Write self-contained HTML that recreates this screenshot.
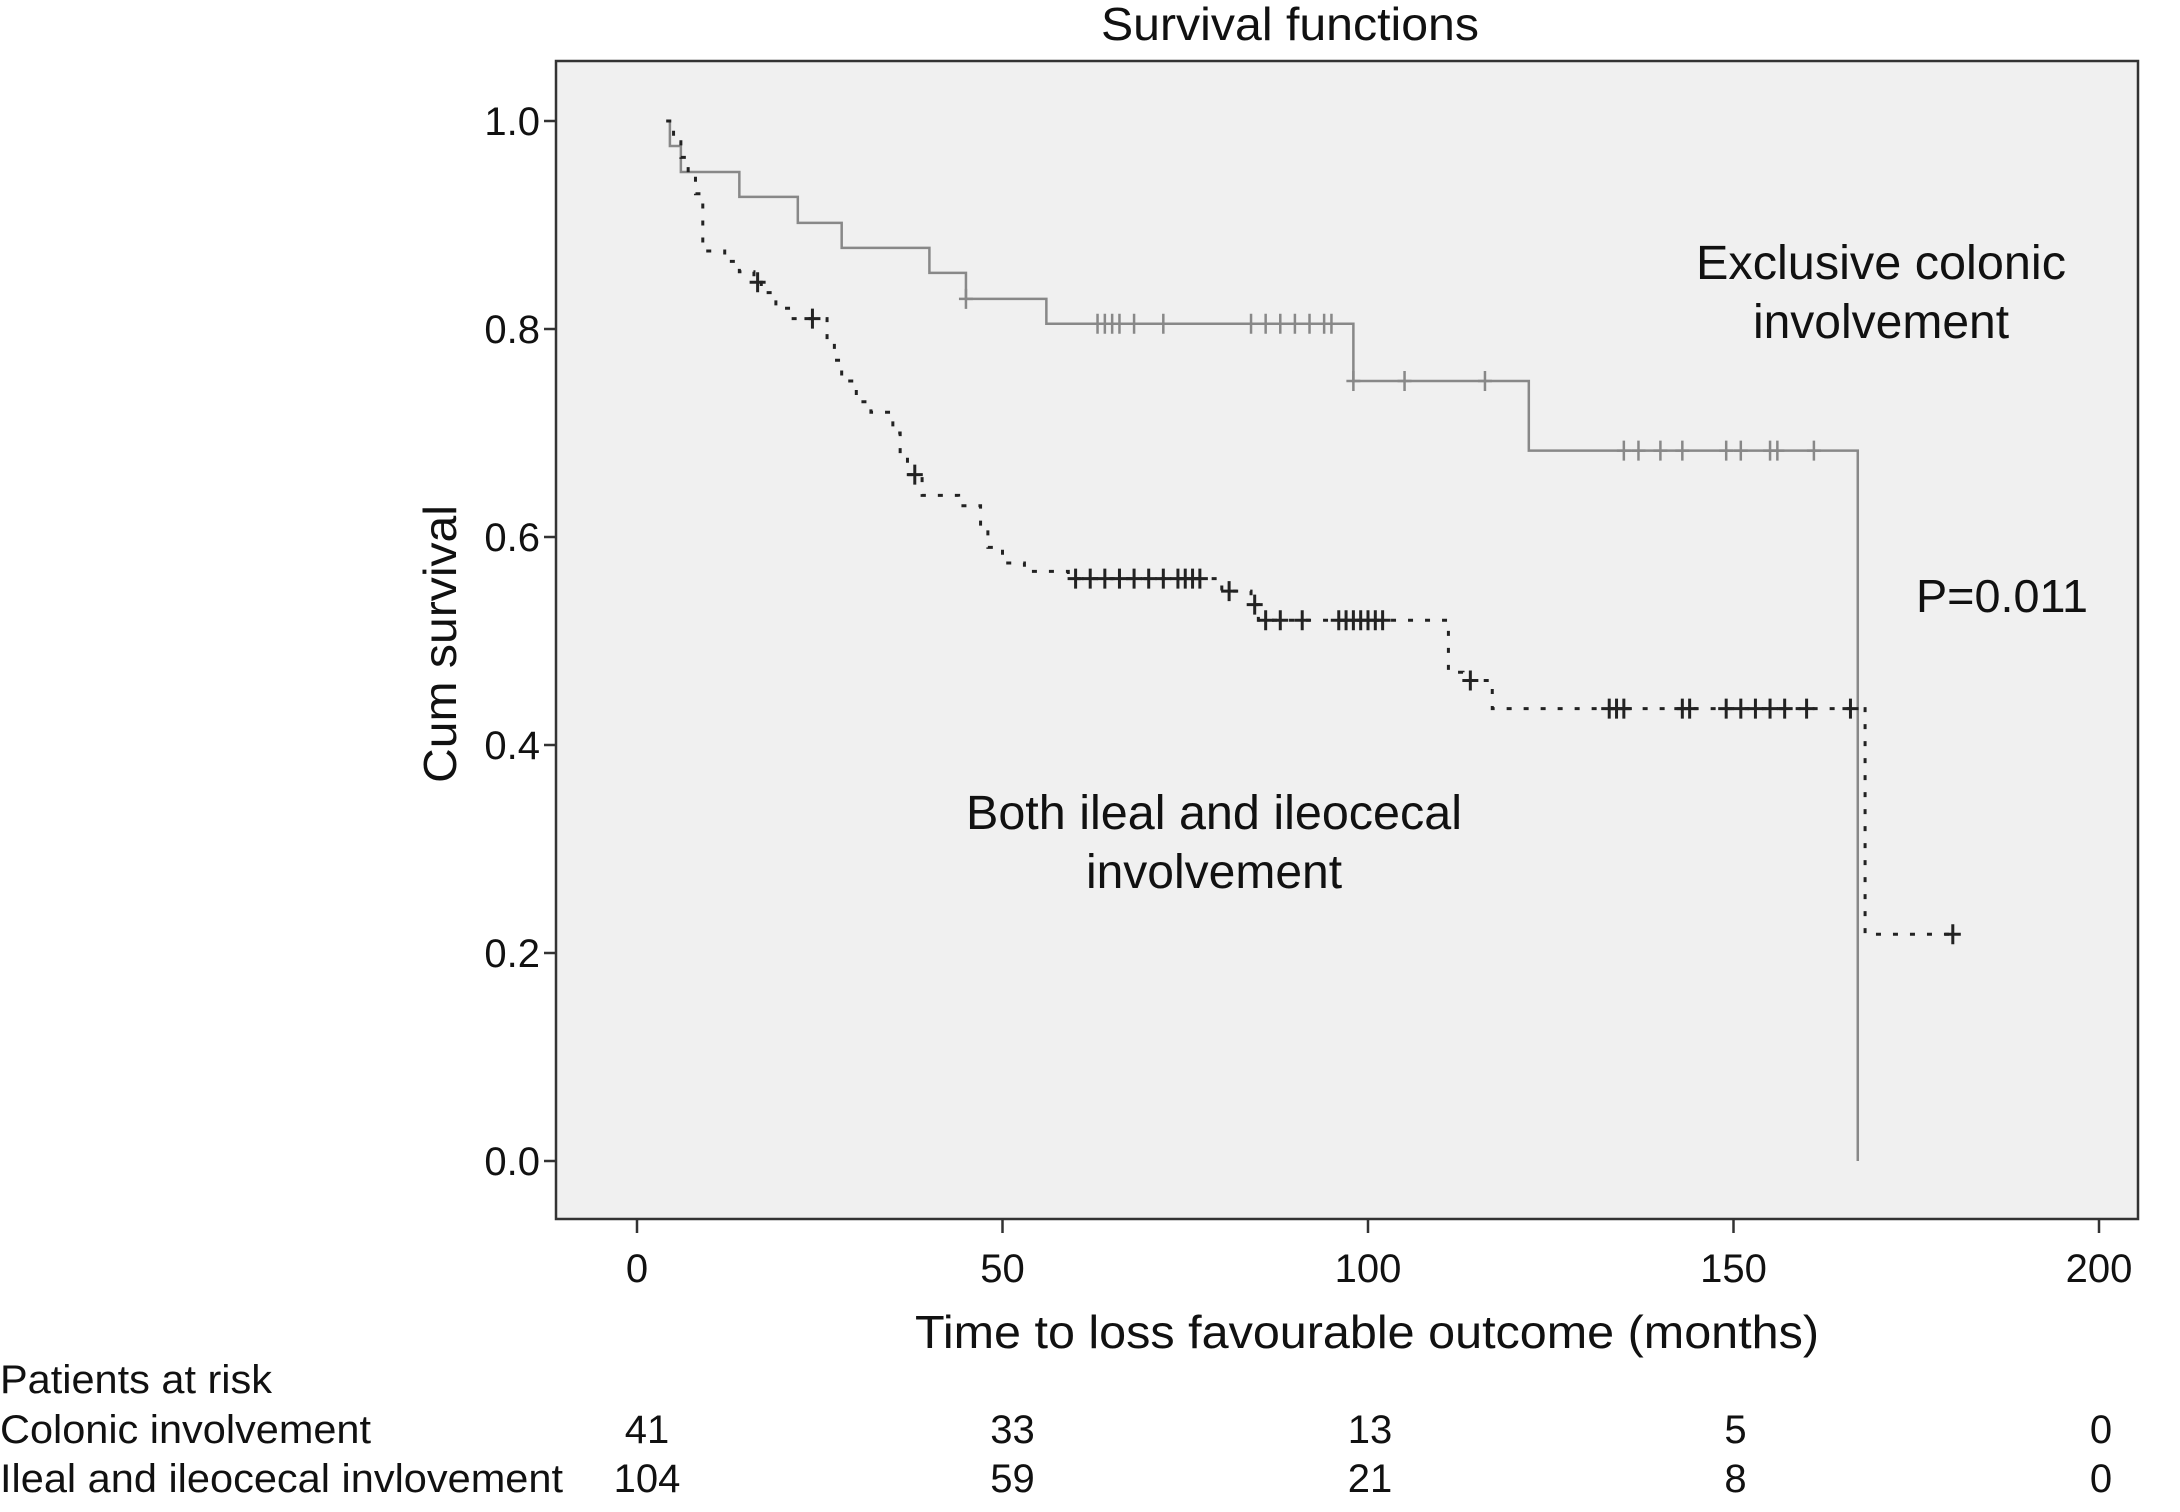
<!DOCTYPE html>
<html><head><meta charset="utf-8"><style>
html,body{margin:0;padding:0;background:#fff;}
svg{display:block;font-family:"Liberation Sans",sans-serif;}
</style></head><body>
<svg id="chart" width="2180" height="1512" viewBox="0 0 2180 1512">
<rect x="556" y="61" width="1582" height="1158" fill="#f0f0f0" stroke="#333" stroke-width="2.5"/>
<text x="1290" y="40" font-size="46" text-anchor="middle" fill="#111" textLength="378" lengthAdjust="spacingAndGlyphs">Survival functions</text>
<text transform="translate(456,644) rotate(-90)" font-size="46" text-anchor="middle" fill="#111" textLength="278" lengthAdjust="spacingAndGlyphs">Cum survival</text>
<text x="1367" y="1348" font-size="46" text-anchor="middle" fill="#111" textLength="904" lengthAdjust="spacingAndGlyphs">Time to loss favourable outcome (months)</text>
<g id="xticks"></g><g id="yticks"></g>
<g id="series"></g>
<text x="1881" y="279" font-size="48" text-anchor="middle" fill="#111" textLength="370" lengthAdjust="spacingAndGlyphs">Exclusive colonic</text>
<text x="1881" y="338" font-size="48" text-anchor="middle" fill="#111">involvement</text>
<text x="2002" y="612" font-size="46" text-anchor="middle" fill="#111" textLength="172" lengthAdjust="spacingAndGlyphs">P=0.011</text>
<text x="1214" y="829" font-size="48" text-anchor="middle" fill="#111" textLength="496" lengthAdjust="spacingAndGlyphs">Both ileal and ileocecal</text>
<text x="1214" y="888" font-size="48" text-anchor="middle" fill="#111">involvement</text>
<text x="0" y="1393" font-size="40" fill="#111" textLength="272" lengthAdjust="spacingAndGlyphs">Patients at risk</text>
<text x="0" y="1443" font-size="40" fill="#111" textLength="371" lengthAdjust="spacingAndGlyphs">Colonic involvement</text>
<text x="0" y="1492" font-size="40" fill="#111" textLength="563" lengthAdjust="spacingAndGlyphs">Ileal and ileocecal invlovement</text>
<g id="risk"></g>
</svg>
<script>
const xTicks=[0,50,100,150,200];
const yTicks=[0.0,0.2,0.4,0.6,0.8,1.0];
const colTimes=[4,4.5,6,14,22,28,40,45,56,98,122,167];
const colSurv=[1.0,0.976,0.951,0.927,0.902,0.878,0.854,0.829,0.805,0.75,0.683,0.0];
const colCens=[45,63,64,65,66,68,72,84,86,88,90,92,94,95,98,105,116,135,137,140,143,149,151,155,156,161];
const ilTimes=[4,5,6,7,8,9,12,14,16,17,19,21,26,27,28,30,32,35,36,37,39,44,47,48,50,53,59,80,84,85,111,113,117,168];
const ilSurv=[1.0,0.98,0.965,0.95,0.93,0.875,0.865,0.855,0.845,0.835,0.82,0.81,0.79,0.77,0.75,0.73,0.72,0.70,0.68,0.66,0.64,0.63,0.61,0.59,0.575,0.567,0.56,0.548,0.535,0.52,0.47,0.462,0.435,0.218];
const ilCens=[16.5,24,38,60,62,64,66,68,70,72,74,75,76,77,81,84.5,86,88,91,96,97,98,99,100,101,102,114,133,134,135,143,144,149,151,153,155,157,160,166,180];
const riskColonic=[41,33,13,5,0];
const riskIleal=[104,59,21,8,0];
const NS='http://www.w3.org/2000/svg';
const X=v=>637+(v/200)*(2099-637);
const Y=v=>1161-v*(1161-121);
function mk(tag,attrs,parent,txt){const e=document.createElementNS(NS,tag);for(const k in attrs)e.setAttribute(k,attrs[k]);if(txt!==undefined)e.textContent=txt;parent.appendChild(e);return e;}
const xg=document.getElementById('xticks'),yg=document.getElementById('yticks'),sg=document.getElementById('series'),rg=document.getElementById('risk');
xTicks.forEach(t=>{
 const l=mk('line',{x1:X(t),x2:X(t),y1:1219,y2:1233,stroke:'#333','stroke-width':2.5},xg);
 
 
 const tx=mk('text',{x:X(t),y:1282,'font-size':40,'text-anchor':'middle',fill:'#111'},xg,String(t));
 
 
});
yTicks.forEach(t=>{
 const l=mk('line',{x1:544,x2:556,y1:Y(t),y2:Y(t),stroke:'#333','stroke-width':2.5},yg);
 
 
 const tx=mk('text',{x:540,y:Y(t)+14,'font-size':40,'text-anchor':'end',fill:'#111'},yg,t.toFixed(1));
 
 
});
function stepPath(ts,ss){let d='M'+X(ts[0])+','+Y(ss[0]);for(let i=1;i<ts.length;i++){d+=' H'+X(ts[i])+' V'+Y(ss[i]);}return d;}
function at(ts,ss,t){let v=ss[0];for(let i=0;i<ts.length;i++){if(ts[i]<=t)v=ss[i];}return v;}
const p1=mk('path',{d:stepPath(colTimes,colSurv),fill:'none',stroke:'#888','stroke-width':2.5},sg);


let ilD=stepPath(ilTimes,ilSurv)+' H'+X(180);
const p2=mk('path',{d:ilD,fill:'none',stroke:'#222','stroke-width':3,'stroke-dasharray':'5 12'},sg);


colCens.forEach(t=>{const x=X(t),y=Y(at(colTimes,colSurv,t));
 const c=mk('path',{d:`M${x-7},${y}H${x+7}M${x},${y-10}V${y+10}`,stroke:'#888','stroke-width':2.5,fill:'none'},sg);
 
 });
ilCens.forEach(t=>{const x=X(t),y=Y(at(ilTimes,ilSurv,t));
 const c=mk('path',{d:`M${x-8},${y}H${x+8}M${x},${y-10}V${y+10}`,stroke:'#222','stroke-width':3,fill:'none'},sg);
 
 });
xTicks.forEach((t,i)=>{
 const off=i<2?10:2;
 const a=mk('text',{x:X(t)+off,y:1443,'font-size':40,'text-anchor':'middle',fill:'#111'},rg,String(riskColonic[i]));
 
 
 const b=mk('text',{x:X(t)+off,y:1492,'font-size':40,'text-anchor':'middle',fill:'#111'},rg,String(riskIleal[i]));
 
 
});
</script>
</body></html>
